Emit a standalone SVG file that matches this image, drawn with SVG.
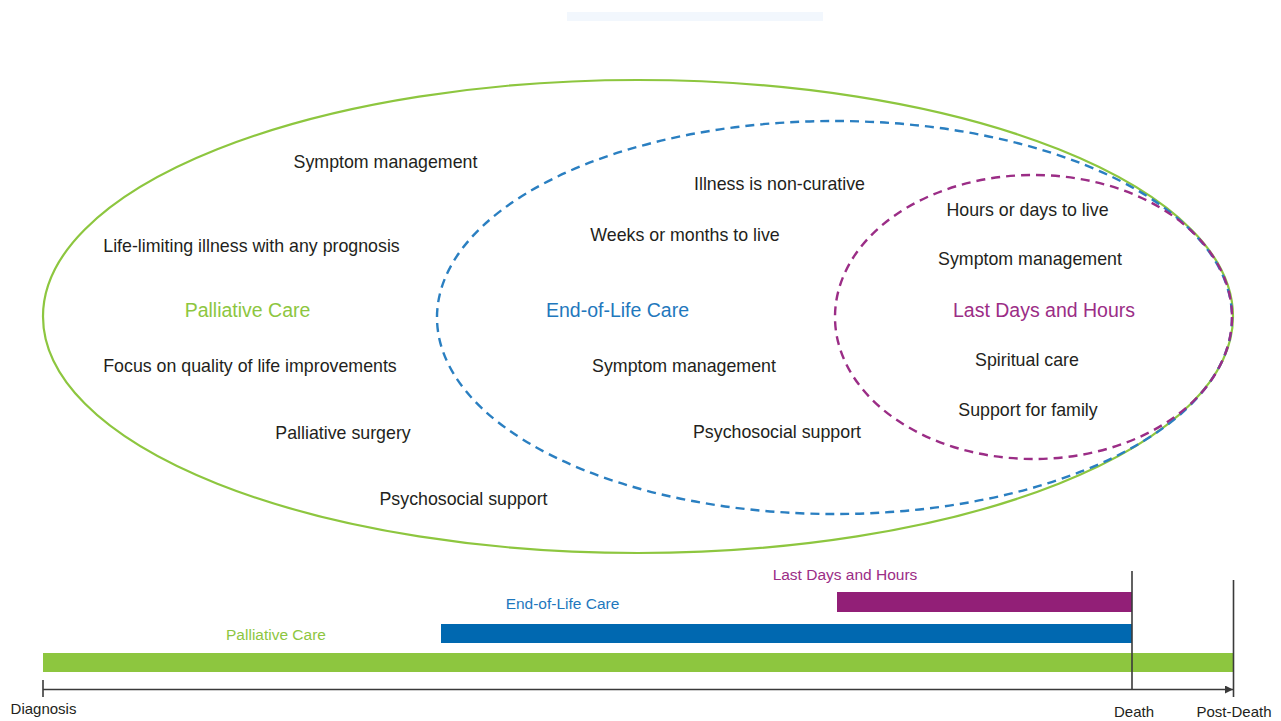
<svg xmlns="http://www.w3.org/2000/svg" width="1281" height="721" viewBox="0 0 1281 721">
  <defs>
    <style>
      text { font-family: "Liberation Sans", Arial, sans-serif; text-anchor: middle; }
      .body { font-size: 17.8px; fill: #231f20; }
      .head { font-size: 19.5px; }
      .small { font-size: 15.5px; }
      .axislbl { font-size: 15px; fill: #231f20; }
      .green { fill: #8dc63f; }
      .blue { fill: #1f78bd; }
      .purple { fill: #9b2d86; }
      .axis { stroke: #3a3a3a; stroke-width: 1.6; fill: none; }
    </style>
    <marker id="arrow" viewBox="0 0 10 10" refX="10" refY="5" markerWidth="10" markerHeight="8" markerUnits="userSpaceOnUse" orient="auto">
      <path d="M0,0 L10,5 L0,10 Z" fill="#3a3a3a"/>
    </marker>
  </defs>
  <rect width="1281" height="721" fill="#ffffff"/>
  <rect x="567" y="12" width="256" height="9" fill="#f2f7fd"/>

  <g id="palliative-care">
    <ellipse cx="638" cy="316.5" rx="595" ry="236.5" fill="none" stroke="#8dc63f" stroke-width="2.2"/>
    <text class="head green" x="247.5" y="317">Palliative Care</text>
    <text class="body" x="385.5" y="168">Symptom management</text>
    <text class="body" x="251.5" y="252">Life-limiting illness with any prognosis</text>
    <text class="body" x="250" y="372">Focus on quality of life improvements</text>
    <text class="body" x="343" y="439">Palliative surgery</text>
    <text class="body" x="463.5" y="505">Psychosocial support</text>
  </g>

  <g id="end-of-life-care">
    <ellipse cx="834.5" cy="317.5" rx="397.5" ry="196.5" fill="none" stroke="#2a7fc1" stroke-width="2.4" stroke-dasharray="9 6"/>
    <text class="head blue" x="617.5" y="317">End-of-Life Care</text>
    <text class="body" x="779.5" y="190">Illness is non-curative</text>
    <text class="body" x="685" y="241">Weeks or months to live</text>
    <text class="body" x="684" y="372">Symptom management</text>
    <text class="body" x="777" y="438">Psychosocial support</text>
  </g>

  <g id="last-days-and-hours">
    <ellipse cx="1033.5" cy="317" rx="198.5" ry="142" fill="none" stroke="#9b2d86" stroke-width="2.4" stroke-dasharray="9 6"/>
    <text class="head purple" x="1044" y="317">Last Days and Hours</text>
    <text class="body" x="1027.5" y="216">Hours or days to live</text>
    <text class="body" x="1030" y="265">Symptom management</text>
    <text class="body" x="1027" y="366">Spiritual care</text>
    <text class="body" x="1028" y="416">Support for family</text>
  </g>

  <g id="timeline">
    <text class="small purple" x="845" y="580">Last Days and Hours</text>
    <rect x="837" y="592" width="295" height="20" fill="#921f77"/>
    <text class="small blue" x="562.5" y="609">End-of-Life Care</text>
    <rect x="441" y="624" width="691" height="19" fill="#0068b0"/>
    <text class="small green" x="276" y="640">Palliative Care</text>
    <rect x="43" y="653" width="1190" height="19" fill="#8dc63f"/>
  </g>

  <g id="connectors">
    <line class="axis" x1="43" y1="689.5" x2="1233" y2="689.5" marker-end="url(#arrow)"/>
    <line class="axis" x1="43" y1="680" x2="43" y2="697"/>
    <line class="axis" x1="1132" y1="571" x2="1132" y2="690"/>
    <line class="axis" x1="1233.5" y1="580" x2="1233.5" y2="697"/>
  </g>

  <g id="axis-labels">
    <text class="axislbl" x="43.5" y="714">Diagnosis</text>
    <text class="axislbl" x="1134" y="717">Death</text>
    <text class="axislbl" x="1234" y="717">Post-Death</text>
  </g>
</svg>
